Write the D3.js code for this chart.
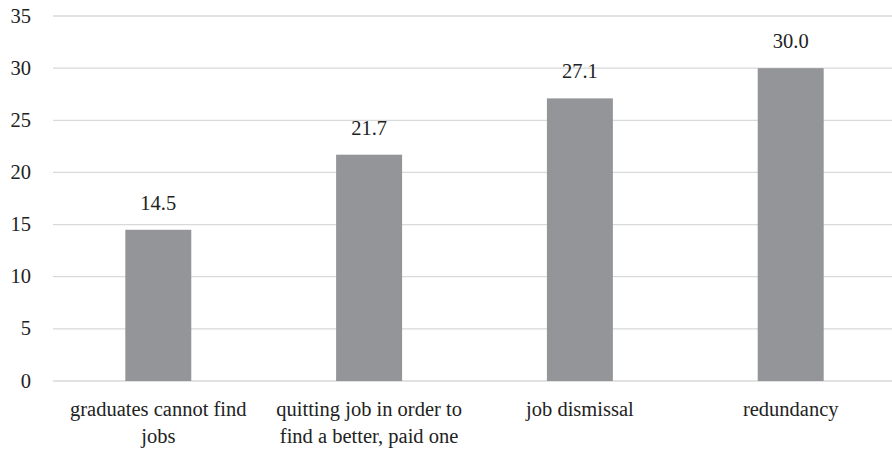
<!DOCTYPE html>
<html>
<head>
<meta charset="utf-8">
<script src="https://cdn.jsdelivr.net/npm/d3@7"></script>
</head>
<body style="margin:0">
<script>
const categories = [
  ["graduates cannot find", "jobs"],
  ["quitting job in order to", "find a better, paid one"],
  ["job dismissal"],
  ["redundancy"]
];
const values = [14.5, 21.7, 27.1, 30.0];
const yTicks = [0, 5, 10, 15, 20, 25, 30, 35];

const fontFamily = "Tinos, Liberation Serif, DejaVu Serif, serif";
const fontSize = 20.5;
const textColor = "#222";

const width = 892, height = 452;
const margin = { top: 16, right: -4, bottom: 71, left: 53 };
const innerW = width - margin.left - margin.right;
const innerH = height - margin.top - margin.bottom;

const svg = d3.select("body").append("svg")
  .attr("width", width)
  .attr("height", height);

const g = svg.append("g")
  .attr("transform", `translate(${margin.left},${margin.top})`);

const x = d3.scaleBand()
  .domain(d3.range(values.length))
  .range([0, innerW])
  .paddingInner(0.687)
  .paddingOuter(0.343);

const y = d3.scaleLinear()
  .domain([0, 35])
  .range([innerH, 0]);

// gridlines
g.selectAll(".grid")
  .data(yTicks)
  .enter()
  .append("line")
  .attr("x1", 0)
  .attr("x2", innerW)
  .attr("y1", (d) => y(d))
  .attr("y2", (d) => y(d))
  .attr("stroke", "#d9d9d9")
  .attr("stroke-width", 1.3);

// bars
g.selectAll(".bar")
  .data(values)
  .enter()
  .append("rect")
  .attr("x", (d, i) => x(i))
  .attr("width", x.bandwidth())
  .attr("y", (d) => y(d))
  .attr("height", (d) => innerH - y(d))
  .attr("fill", "#939598");

// y tick labels
g.selectAll(".ytick")
  .data(yTicks)
  .enter()
  .append("text")
  .attr("x", -22)
  .attr("y", (d) => y(d) + 6.5)
  .attr("text-anchor", "end")
  .style("font-family", fontFamily)
  .style("font-size", fontSize + "px")
  .style("fill", textColor)
  .text((d) => d);

// value labels
g.selectAll(".val")
  .data(values)
  .enter()
  .append("text")
  .attr("x", (d, i) => x(i) + x.bandwidth() / 2)
  .attr("y", (d) => y(d) - 20)
  .attr("text-anchor", "middle")
  .style("font-family", fontFamily)
  .style("font-size", fontSize + "px")
  .style("fill", textColor)
  .text((d) => d.toFixed(1));

// category labels, one text per line
const lines = [];
categories.forEach((c, i) => c.forEach((t, j) => lines.push({ i, j, t })));

g.selectAll(".cat")
  .data(lines)
  .enter()
  .append("text")
  .attr("x", (d) => x(d.i) + x.bandwidth() / 2)
  .attr("y", (d) => innerH + 35 + d.j * 27)
  .attr("text-anchor", "middle")
  .style("font-family", fontFamily)
  .style("font-size", fontSize + "px")
  .style("fill", textColor)
  .text((d) => d.t);
</script>
</body>
</html>
